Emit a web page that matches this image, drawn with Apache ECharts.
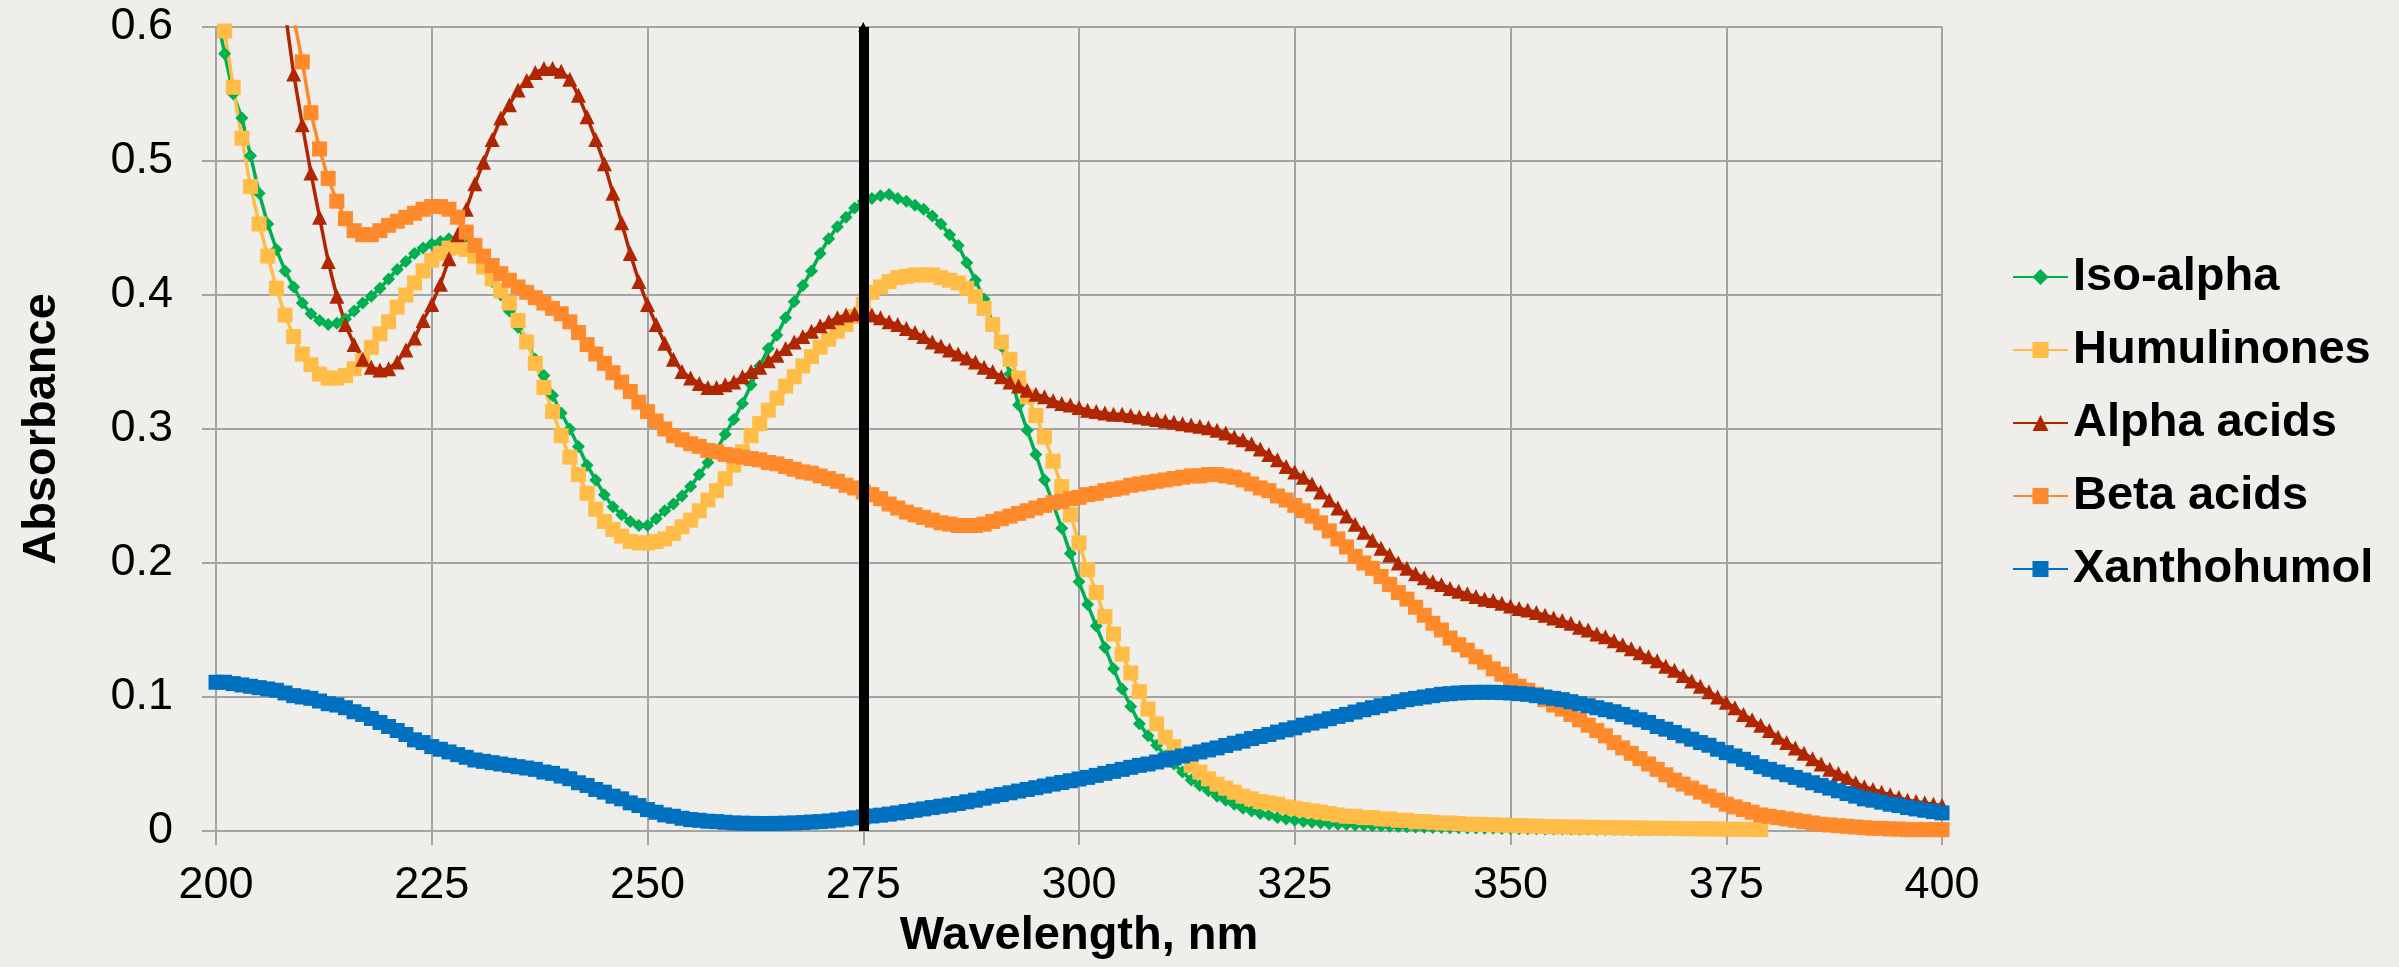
<!DOCTYPE html>
<html>
<head>
<meta charset="utf-8">
<script src="https://cdn.jsdelivr.net/npm/echarts@6/dist/echarts.min.js"></script>
<style>
html, body { margin: 0; padding: 0; background: #efeeea; }
#chart { width: 2399px; height: 967px; }
</style>
</head>
<body>
<div id="chart"></div>
<script>
// absorbance read at 1 nm steps, first value at 200 nm
var startNm = 200

var isoAlpha = [
    0.612, 0.580, 0.550, 0.532, 0.504, 0.476, 0.453, 0.434, 0.418, 0.406,
    0.394, 0.386, 0.381, 0.378, 0.379, 0.382, 0.388, 0.394, 0.399, 0.405,
    0.412, 0.419, 0.425, 0.431, 0.435, 0.438, 0.440, 0.442, 0.442, 0.438,
    0.430, 0.420, 0.410, 0.400, 0.388, 0.376, 0.365, 0.352, 0.340, 0.325,
    0.312, 0.300, 0.287, 0.273, 0.262, 0.251, 0.242, 0.236, 0.231, 0.228,
    0.228, 0.233, 0.239, 0.244, 0.250, 0.257, 0.266, 0.275, 0.284, 0.296,
    0.307, 0.319, 0.333, 0.347, 0.360, 0.370, 0.383, 0.395, 0.407, 0.418,
    0.431, 0.442, 0.451, 0.458, 0.465, 0.470, 0.472, 0.474, 0.475, 0.472,
    0.470, 0.467, 0.464, 0.459, 0.453, 0.445, 0.437, 0.424, 0.411, 0.397,
    0.379, 0.362, 0.341, 0.318, 0.299, 0.281, 0.262, 0.244, 0.226, 0.207,
    0.186, 0.169, 0.153, 0.137, 0.121, 0.106, 0.093, 0.080, 0.071, 0.064,
    0.056, 0.050, 0.044, 0.038, 0.034, 0.030, 0.026, 0.023, 0.020, 0.017,
    0.015, 0.013, 0.012, 0.010, 0.009, 0.008, 0.007, 0.0065, 0.006, 0.0055,
    0.005, 0.0048, 0.0045, 0.0043, 0.004, 0.0038, 0.0036, 0.0034, 0.0032, 0.003,
    0.0028, 0.0027, 0.0026, 0.0025, 0.0024, 0.0023, 0.0022, 0.0021, 0.002, 0.0019,
    0.0018, 0.0017, 0.0016, 0.0016, 0.0015, 0.0015, 0.0014, 0.0014, 0.0013, 0.0013,
    0.0012, 0.0012, 0.0011, 0.0011, 0.001, 0.001, 0.0009, 0.0009, 0.0008, 0.0008,
    0.0007, 0.0007, 0.0006, 0.0006, 0.0005, 0.0005, 0.0004, 0.0003, 0.0002, 0.0001
]

var humulinones = [
    0.640, 0.597, 0.555, 0.517, 0.481, 0.453, 0.429, 0.405, 0.385, 0.369,
    0.356, 0.348, 0.341, 0.338, 0.338, 0.340, 0.345, 0.351, 0.361, 0.371,
    0.380, 0.391, 0.400, 0.409, 0.418, 0.426, 0.431, 0.435, 0.436, 0.434,
    0.429, 0.421, 0.412, 0.403, 0.394, 0.381, 0.365, 0.349, 0.331, 0.313,
    0.295, 0.279, 0.266, 0.252, 0.240, 0.231, 0.225, 0.220, 0.216, 0.215,
    0.215, 0.216, 0.218, 0.222, 0.227, 0.232, 0.239, 0.247, 0.254, 0.263,
    0.273, 0.283, 0.295, 0.304, 0.314, 0.323, 0.332, 0.339, 0.347, 0.354,
    0.361, 0.367, 0.373, 0.378, 0.384, 0.393, 0.402, 0.406, 0.410, 0.413,
    0.414, 0.415, 0.415, 0.415, 0.413, 0.411, 0.409, 0.405, 0.399, 0.390,
    0.378, 0.365, 0.352, 0.338, 0.324, 0.310, 0.294, 0.276, 0.257, 0.236,
    0.215, 0.195, 0.178, 0.160, 0.147, 0.132, 0.118, 0.104, 0.091, 0.080,
    0.070, 0.063, 0.056, 0.049, 0.044, 0.039, 0.035, 0.032, 0.029, 0.026,
    0.024, 0.022, 0.021, 0.020, 0.018, 0.017, 0.016, 0.015, 0.014, 0.013,
    0.012, 0.011, 0.011, 0.010, 0.010, 0.009, 0.009, 0.008, 0.008, 0.007,
    0.007, 0.0065, 0.006, 0.006, 0.0055, 0.005, 0.005, 0.0048, 0.0046, 0.0044,
    0.0042, 0.004, 0.0038, 0.0036, 0.0034, 0.0032, 0.0031, 0.003, 0.0029, 0.0028,
    0.0027, 0.0026, 0.0025, 0.0024, 0.0023, 0.0022, 0.0021, 0.002, 0.002, 0.0019,
    0.0018, 0.0017, 0.0016, 0.0016, 0.0015, 0.0014, 0.0013, 0.0012, 0.0011, 0.001
]

var alphaAcids = [
    1.000, 0.950, 0.900, 0.850, 0.800, 0.750, 0.700, 0.655, 0.612, 0.565,
    0.527, 0.491, 0.458, 0.425, 0.399, 0.378, 0.363, 0.352, 0.346, 0.344,
    0.345, 0.350, 0.359, 0.368, 0.381, 0.393, 0.408, 0.427, 0.445, 0.464,
    0.483, 0.499, 0.516, 0.532, 0.542, 0.553, 0.560, 0.566, 0.569, 0.569,
    0.567, 0.561, 0.549, 0.533, 0.516, 0.498, 0.476, 0.454, 0.431, 0.410,
    0.393, 0.378, 0.364, 0.352, 0.343, 0.338, 0.334, 0.331, 0.331, 0.333,
    0.335, 0.339, 0.343, 0.346, 0.351, 0.355, 0.360, 0.365, 0.369, 0.373,
    0.377, 0.380, 0.383, 0.385, 0.386, 0.386, 0.385, 0.383, 0.380, 0.378,
    0.375, 0.372, 0.369, 0.365, 0.362, 0.359, 0.356, 0.353, 0.350, 0.346,
    0.343, 0.339, 0.335, 0.332, 0.329, 0.326, 0.324, 0.321, 0.319, 0.318,
    0.316, 0.314, 0.313, 0.312, 0.311, 0.311, 0.310, 0.309, 0.308, 0.307,
    0.306, 0.305, 0.304, 0.303, 0.302, 0.301, 0.299, 0.297, 0.294, 0.292,
    0.289, 0.285, 0.281, 0.277, 0.272, 0.268, 0.264, 0.259, 0.253, 0.247,
    0.241, 0.235, 0.229, 0.223, 0.217, 0.211, 0.206, 0.200, 0.196, 0.192,
    0.189, 0.186, 0.184, 0.181, 0.179, 0.177, 0.175, 0.173, 0.172, 0.170,
    0.168, 0.166, 0.165, 0.163, 0.161, 0.159, 0.157, 0.155, 0.152, 0.150,
    0.147, 0.145, 0.142, 0.139, 0.136, 0.133, 0.130, 0.127, 0.123, 0.120,
    0.116, 0.112, 0.108, 0.104, 0.100, 0.096, 0.092, 0.087, 0.083, 0.079,
    0.075, 0.070, 0.066, 0.062, 0.058, 0.054, 0.050, 0.046, 0.043, 0.040,
    0.036, 0.033, 0.031, 0.029, 0.027, 0.025, 0.023, 0.022, 0.021, 0.020,
    0.019
]

var betaAcids = [
    1.030, 0.980, 0.930, 0.880, 0.830, 0.780, 0.730, 0.685, 0.645, 0.607,
    0.574, 0.536, 0.509, 0.487, 0.470, 0.457, 0.448, 0.445, 0.445, 0.448,
    0.452, 0.455, 0.458, 0.461, 0.464, 0.466, 0.466, 0.464, 0.458, 0.447,
    0.437, 0.429, 0.422, 0.416, 0.411, 0.406, 0.402, 0.398, 0.394, 0.390,
    0.386, 0.380, 0.372, 0.363, 0.356, 0.349, 0.342, 0.335, 0.328, 0.320,
    0.313, 0.306, 0.300, 0.295, 0.292, 0.289, 0.287, 0.284, 0.283, 0.281,
    0.280, 0.279, 0.278, 0.277, 0.275, 0.274, 0.272, 0.270, 0.268, 0.267,
    0.265, 0.263, 0.261, 0.258, 0.256, 0.253, 0.251, 0.248, 0.244, 0.241,
    0.238, 0.236, 0.234, 0.232, 0.230, 0.229, 0.228, 0.228, 0.228, 0.229,
    0.231, 0.233, 0.235, 0.237, 0.239, 0.241, 0.243, 0.245, 0.246, 0.248,
    0.249, 0.251, 0.252, 0.254, 0.255, 0.256, 0.258, 0.259, 0.260, 0.261,
    0.262, 0.263, 0.264, 0.265, 0.265, 0.266, 0.266, 0.265, 0.264, 0.262,
    0.259, 0.256, 0.254, 0.250, 0.247, 0.243, 0.239, 0.235, 0.230, 0.224,
    0.218, 0.212, 0.205, 0.200, 0.196, 0.190, 0.184, 0.178, 0.173, 0.167,
    0.161, 0.155, 0.150, 0.144, 0.139, 0.135, 0.130, 0.126, 0.121, 0.117,
    0.112, 0.108, 0.105, 0.102, 0.098, 0.094, 0.091, 0.087, 0.083, 0.079,
    0.075, 0.071, 0.066, 0.062, 0.058, 0.054, 0.050, 0.046, 0.042, 0.038,
    0.035, 0.032, 0.029, 0.026, 0.023, 0.020, 0.018, 0.016, 0.014, 0.012,
    0.011, 0.010, 0.009, 0.008, 0.007, 0.006, 0.005, 0.0045, 0.004, 0.0035,
    0.003, 0.0025, 0.002, 0.002, 0.0015, 0.0015, 0.001, 0.001, 0.001, 0.001,
    0.001
]

var xanthohumol = [
    0.111, 0.111, 0.110, 0.109, 0.108, 0.107, 0.106, 0.105, 0.103, 0.101,
    0.100, 0.099, 0.097, 0.095, 0.094, 0.092, 0.089, 0.087, 0.084, 0.081,
    0.078, 0.075, 0.072, 0.068, 0.066, 0.063, 0.061, 0.059, 0.057, 0.055,
    0.053, 0.052, 0.051, 0.050, 0.049, 0.048, 0.047, 0.046, 0.044, 0.043,
    0.041, 0.039, 0.036, 0.034, 0.031, 0.029, 0.026, 0.024, 0.021, 0.019,
    0.016, 0.014, 0.012, 0.011, 0.0095, 0.0085, 0.008, 0.0073, 0.007, 0.0065,
    0.006, 0.0058, 0.0057, 0.0056, 0.0056, 0.0057, 0.0058, 0.006, 0.0063, 0.0067,
    0.007, 0.0075, 0.0082, 0.009, 0.0098, 0.0105, 0.0112, 0.0118, 0.0126, 0.0135,
    0.0145, 0.0155, 0.0165, 0.0175, 0.0185, 0.0194, 0.0205, 0.0218, 0.023, 0.0245,
    0.026, 0.0272, 0.0285, 0.0298, 0.031, 0.0323, 0.0336, 0.035, 0.0362, 0.0375,
    0.0388, 0.040, 0.0415, 0.043, 0.0445, 0.046, 0.0475, 0.049, 0.050, 0.0515,
    0.053, 0.0545, 0.056, 0.0575, 0.059, 0.0605, 0.062, 0.0638, 0.0655, 0.067,
    0.069, 0.0705, 0.072, 0.0738, 0.0755, 0.077, 0.079, 0.0805, 0.082, 0.0838,
    0.0855, 0.087, 0.0888, 0.0905, 0.092, 0.0935, 0.095, 0.0965, 0.098, 0.099,
    0.100, 0.101, 0.102, 0.1025, 0.103, 0.1033, 0.1035, 0.1035, 0.1035, 0.1033,
    0.103, 0.1025, 0.102, 0.101, 0.100, 0.099, 0.098, 0.0965, 0.095, 0.0935,
    0.092, 0.0905, 0.089, 0.087, 0.085, 0.083, 0.081, 0.078, 0.076, 0.0735,
    0.071, 0.0685, 0.066, 0.064, 0.061, 0.0585, 0.056, 0.0535, 0.051, 0.048,
    0.046, 0.044, 0.042, 0.040, 0.038, 0.036, 0.034, 0.032, 0.030, 0.028,
    0.026, 0.024, 0.023, 0.0215, 0.020, 0.019, 0.0175, 0.0165, 0.0155, 0.0145,
    0.0135
]

var seriesNames = ['Iso-alpha', 'Humulinones', 'Alpha acids', 'Beta acids', 'Xanthohumol']
var markedNm = 275

function toPairs(values) {
    return values.map(function(v, i) { return [startNm + i, v] })
}

var gridGray = '#a3a3a3'
var font = '"Liberation Sans", Arial, sans-serif'

function lineSeries(name, values, color, symbol, size) {
    return {
        name: name,
        type: 'line',
        data: toPairs(values),
        symbol: symbol,
        symbolSize: size,
        showAllSymbol: true,
        clip: true,
        lineStyle: { color: color, width: 3.5 },
        itemStyle: { color: color, borderWidth: 0 },
        emphasis: { disabled: true }
    }
}

var series = [
    lineSeries(seriesNames[0], isoAlpha, '#00b050', 'diamond', 13),
    lineSeries(seriesNames[1], humulinones, '#ffbd47', 'rect', 15),
    lineSeries(seriesNames[2], alphaAcids, '#b02600', 'triangle', 15),
    lineSeries(seriesNames[3], betaAcids, '#ff8a2b', 'rect', 15),
    lineSeries(seriesNames[4], xanthohumol, '#0070c0', 'rect', 15)
]
// black marker line at 275 nm, drawn over everything
series[4].markLine = {
    silent: true,
    animation: false,
    symbol: ['none', 'triangle'],
    symbolSize: [10, 10],
    label: { show: false },
    lineStyle: { color: '#000', width: 10, type: 'solid' },
    data: [{ xAxis: markedNm }]
}

var mychart = echarts.init(document.getElementById('chart'))
mychart.setOption({
    animation: false,
    backgroundColor: '#efeeea',
    textStyle: { fontFamily: font },
    grid: { left: 216, right: 457, top: 27, bottom: 136, containLabel: false },
    legend: {
        orient: 'vertical',
        left: 2007,
        top: 247,
        itemWidth: 55,
        itemHeight: 20,
        itemGap: 23,
        textStyle: { fontSize: 47, fontWeight: 'bold', color: '#000', lineHeight: 50, fontFamily: font },
        data: seriesNames
    },
    xAxis: {
        type: 'value',
        min: 200,
        max: 400,
        interval: 25,
        name: 'Wavelength, nm',
        nameLocation: 'middle',
        nameGap: 80,
        nameTextStyle: { fontSize: 47, fontWeight: 'bold', color: '#000', fontFamily: font },
        axisLine: { lineStyle: { color: gridGray, width: 2 } },
        axisTick: { show: true, length: 14, lineStyle: { color: gridGray, width: 2 } },
        axisLabel: { fontSize: 45, color: '#000', margin: 32, fontFamily: font },
        splitLine: { show: true, lineStyle: { color: gridGray, width: 2 } }
    },
    yAxis: {
        type: 'value',
        min: 0,
        max: 0.6,
        interval: 0.1,
        name: 'Absorbance',
        nameLocation: 'middle',
        nameRotate: 90,
        nameGap: 150,
        nameTextStyle: { fontSize: 47, fontWeight: 'bold', color: '#000', fontFamily: font },
        axisLine: { show: true, lineStyle: { color: gridGray, width: 2 } },
        axisTick: { show: true, length: 14, lineStyle: { color: gridGray, width: 2 } },
        axisLabel: { fontSize: 45, color: '#000', margin: 43, fontFamily: font },
        splitLine: { show: true, lineStyle: { color: gridGray, width: 2 } }
    },
    series: series
})
</script>
</body>
</html>
